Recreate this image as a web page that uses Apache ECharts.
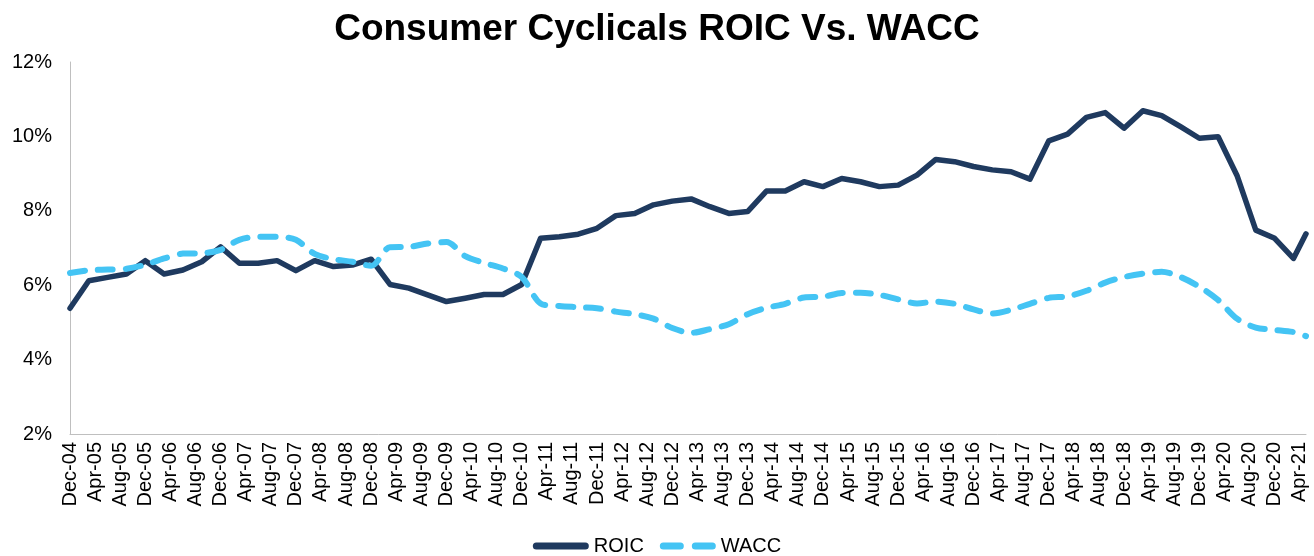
<!DOCTYPE html>
<html>
<head>
<meta charset="utf-8">
<script src="https://cdn.jsdelivr.net/npm/echarts@6/dist/echarts.min.js"></script>
<style>
html,body{margin:0;padding:0;background:#fff;}
#chart{width:1314px;height:556px;}
</style>
</head>
<body>
<div id="chart"></div>
<script>
// Observation dates (year-month), quarterly plus latest
const dates = [
 "2004-12","2005-03","2005-06","2005-09","2005-12","2006-03","2006-06","2006-09","2006-12",
 "2007-03","2007-06","2007-09","2007-12","2008-03","2008-06","2008-09","2008-12",
 "2009-03","2009-06","2009-09","2009-12","2010-03","2010-06","2010-09","2010-12",
 "2011-03","2011-06","2011-09","2011-12","2012-03","2012-06","2012-09","2012-12",
 "2013-03","2013-06","2013-09","2013-12","2014-03","2014-06","2014-09","2014-12",
 "2015-03","2015-06","2015-09","2015-12","2016-03","2016-06","2016-09","2016-12",
 "2017-03","2017-06","2017-09","2017-12","2018-03","2018-06","2018-09","2018-12",
 "2019-03","2019-06","2019-09","2019-12","2020-03","2020-06","2020-09","2020-12",
 "2021-03","2021-05"
];
const roic = [
 5.38,6.12,6.21,6.30,6.66,6.30,6.41,6.63,7.03,
 6.59,6.59,6.66,6.39,6.66,6.50,6.54,6.70,
 6.02,5.92,5.74,5.56,5.65,5.75,5.75,6.02,
 7.26,7.30,7.37,7.53,7.87,7.93,8.16,8.26,
 8.32,8.11,7.93,7.98,8.53,8.53,8.78,8.65,
 8.87,8.78,8.65,8.69,8.96,9.38,9.32,9.19,
 9.10,9.05,8.85,9.88,10.06,10.51,10.64,10.22,
 10.69,10.56,10.26,9.95,9.99,8.95,7.48,7.26,
 6.72,7.38
];
const wacc = [
 6.33,6.40,6.42,6.44,6.55,6.72,6.85,6.86,6.95,
 7.22,7.30,7.30,7.22,6.84,6.70,6.63,6.52,
 7.02,7.03,7.12,7.16,6.78,6.60,6.45,6.22,
 5.51,5.44,5.41,5.38,5.29,5.22,5.10,4.85,
 4.72,4.82,4.95,5.22,5.39,5.50,5.67,5.69,
 5.79,5.80,5.74,5.62,5.51,5.56,5.50,5.35,
 5.24,5.34,5.50,5.66,5.70,5.85,6.07,6.22,
 6.31,6.36,6.22,5.96,5.60,5.10,4.86,4.80,
 4.74,4.63
];
const tickLabels = [
 "Dec-04","Apr-05","Aug-05","Dec-05","Apr-06","Aug-06","Dec-06","Apr-07","Aug-07","Dec-07",
 "Apr-08","Aug-08","Dec-08","Apr-09","Aug-09","Dec-09","Apr-10","Aug-10","Dec-10","Apr-11",
 "Aug-11","Dec-11","Apr-12","Aug-12","Dec-12","Apr-13","Aug-13","Dec-13","Apr-14","Aug-14",
 "Dec-14","Apr-15","Aug-15","Dec-15","Apr-16","Aug-16","Dec-16","Apr-17","Aug-17","Dec-17",
 "Apr-18","Aug-18","Dec-18","Apr-19","Aug-19","Dec-19","Apr-20","Aug-20","Dec-20","Apr-21"
];
const yTicks = [2,4,6,8,10,12];

function monthIndex(d){
  const p = d.split("-");
  return (parseInt(p[0],10)-2004)*12 + (parseInt(p[1],10)-12);
}
const xs = dates.map(monthIndex);
const roicData = xs.map((x,i)=>[x, roic[i]]);
const waccData = xs.map((x,i)=>[x, wacc[i]]);
const xMax = xs[xs.length-1];

const FONT = "'Liberation Sans', Arial, sans-serif";
const NAVY = '#1F3A5F';
const SKY = '#44C4F4';
const chart = echarts.init(document.getElementById('chart'), null, {renderer:'canvas'});
chart.setOption({
  animation:false,
  backgroundColor:'#ffffff',
  title:{
    text:'Consumer Cyclicals ROIC Vs. WACC',
    left:'center', top:6,
    textStyle:{fontFamily:FONT, fontWeight:'bold', fontSize:37, color:'#000000'}
  },
  legend:{
    top:531, left:'center',
    itemWidth:56, itemHeight:7, itemGap:16,
    textStyle:{fontFamily:FONT, fontSize:20, color:'#000000'},
    data:[
      {name:'ROIC', icon:'path://M3.5,0 H52.5 A3.5,3.5 0 0 1 52.5,7 H3.5 A3.5,3.5 0 0 1 3.5,0 Z', itemStyle:{color:NAVY}},
      {name:'WACC', icon:'path://M3.5,0 H20.5 A3.5,3.5 0 0 1 20.5,7 H3.5 A3.5,3.5 0 0 1 3.5,0 Z M35.5,0 H52.5 A3.5,3.5 0 0 1 52.5,7 H35.5 A3.5,3.5 0 0 1 35.5,0 Z', itemStyle:{color:SKY}}
    ]
  },
  grid:{left:70, right:8, top:62, bottom:122, containLabel:false},
  xAxis:{
    type:'value', min:0, max:xMax, interval:4,
    axisLine:{show:true, lineStyle:{color:'#BFBFBF', width:1}},
    axisTick:{show:false},
    splitLine:{show:false},
    axisLabel:{
      rotate:90, margin:8, fontFamily:FONT, fontSize:20, color:'#000000',
      formatter:function(v){ return (v % 4 === 0 && tickLabels[v/4]) ? tickLabels[v/4] : ''; }
    }
  },
  yAxis:{
    type:'value', min:yTicks[0], max:yTicks[yTicks.length-1], interval:2,
    axisLine:{show:true, lineStyle:{color:'#BFBFBF', width:1}},
    axisTick:{show:false},
    splitLine:{show:false},
    axisLabel:{margin:18, fontFamily:FONT, fontSize:20, color:'#000000', formatter:'{value}%'}
  },
  series:[
    {
      name:'ROIC', type:'line', data:roicData, symbol:'none',
      itemStyle:{color:NAVY},
      lineStyle:{color:NAVY, width:5.5, join:'round', cap:'round'}
    },
    {
      name:'WACC', type:'line', data:waccData, symbol:'none', smooth:0.3,
      itemStyle:{color:SKY},
      lineStyle:{color:SKY, width:6, type:[15,13], cap:'round', join:'round'}
    }
  ]
});
</script>
</body>
</html>
